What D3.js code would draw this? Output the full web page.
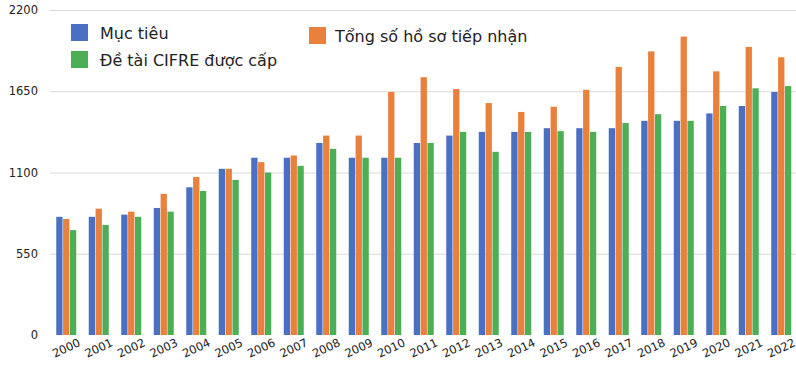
<!DOCTYPE html>
<html>
<head>
<meta charset="utf-8">
<script src="https://cdn.jsdelivr.net/npm/d3@7"></script>
<style>
  body { margin: 0; background: #fff; }
  text { font-family: "DejaVu Sans", Verdana, sans-serif; fill: #222; }
</style>
</head>
<body>
<svg id="chart" width="796" height="388"></svg>
<script>
// Data
var years = d3.range(2000, 2023).map(String);
var seriesNames = ["Mục tiêu", "Tổng số hồ sơ tiếp nhận", "Đề tài CIFRE được cấp"];
var seriesColors = ["#4a70c4", "#e9803c", "#4caf55"];
var target   = [800, 800, 815, 860, 1000, 1125, 1200, 1200, 1300, 1200, 1200, 1300, 1350, 1375, 1375, 1400, 1400, 1400, 1450, 1450, 1500, 1550, 1645];
var received = [785, 855, 835, 955, 1070, 1125, 1170, 1215, 1350, 1350, 1645, 1745, 1665, 1570, 1510, 1545, 1660, 1815, 1920, 2020, 1785, 1950, 1880];
var granted  = [710, 745, 800, 835, 975, 1050, 1100, 1145, 1260, 1200, 1200, 1300, 1375, 1240, 1375, 1380, 1375, 1435, 1495, 1450, 1550, 1670, 1685];
var yTicks = [0, 550, 1100, 1650, 2200];

var values = [target, received, granted];

var svg = d3.select("#chart");

// scales
var x = d3.scaleBand().domain(years).range([50, 797.5]);
var sub = d3.scaleBand().domain(d3.range(3)).range([6.25, 26.25]).paddingInner(0.08);
var y = d3.scaleLinear().domain([0, 2200]).range([335, 10]);

// grid lines
svg.append("g").selectAll("line")
    .data(yTicks.filter(function(d) { return d > 0; }))
  .enter().append("line")
    .attr("x1", 50)
    .attr("x2", 796)
    .attr("y1", function(d) { return y(d) + 0.5; })
    .attr("y2", function(d) { return y(d) + 0.5; })
    .style("stroke", "#d9d9d9");

// y labels
svg.append("g").selectAll("text")
    .data(yTicks)
  .enter().append("text")
    .attr("x", 38)
    .attr("y", function(d) { return y(d); })
    .attr("dy", ".35em")
    .attr("text-anchor", "end")
    .style("font-size", "11.5px")
    .text(function(d) { return d; });

// bars
var group = svg.append("g").selectAll(".year")
    .data(years)
  .enter().append("g")
    .attr("class", "year")
    .attr("transform", function(d) { return "translate(" + x(d) + ",0)"; });

group.selectAll("rect")
    .data(function(d, i) { return values.map(function(s, k) { return {k: k, v: s[i]}; }); })
  .enter().append("rect")
    .attr("x", function(d) { return sub(d.k); })
    .attr("width", sub.bandwidth())
    .attr("y", function(d) { return y(d.v); })
    .attr("height", function(d) { return y(0) - y(d.v); })
    .style("fill", function(d) { return seriesColors[d.k]; });

// x labels
svg.append("g").selectAll("text")
    .data(years)
  .enter().append("text")
    .attr("transform", function(d) { return "translate(" + (x(d) + x.bandwidth() / 2) + ",348)rotate(-25)"; })
    .attr("text-anchor", "middle")
    .attr("dy", ".35em")
    .style("font-size", "11.5px")
    .text(function(d) { return d; });

// legend
var legendPos = [[71, 24, 29], [309, 27, 26], [71, 51, 29]];
var legend = svg.append("g").selectAll(".legend")
    .data(seriesNames)
  .enter().append("g")
    .attr("class", "legend")
    .attr("transform", function(d, i) { return "translate(" + legendPos[i][0] + "," + legendPos[i][1] + ")"; });

legend.append("rect")
    .attr("width", 17)
    .attr("height", 17)
    .style("fill", function(d, i) { return seriesColors[i]; });

legend.append("text")
    .attr("x", function(d, i) { return legendPos[i][2]; })
    .attr("y", 14.5)
    .style("font-size", "16px")
    .text(function(d) { return d; });
</script>
</body>
</html>
